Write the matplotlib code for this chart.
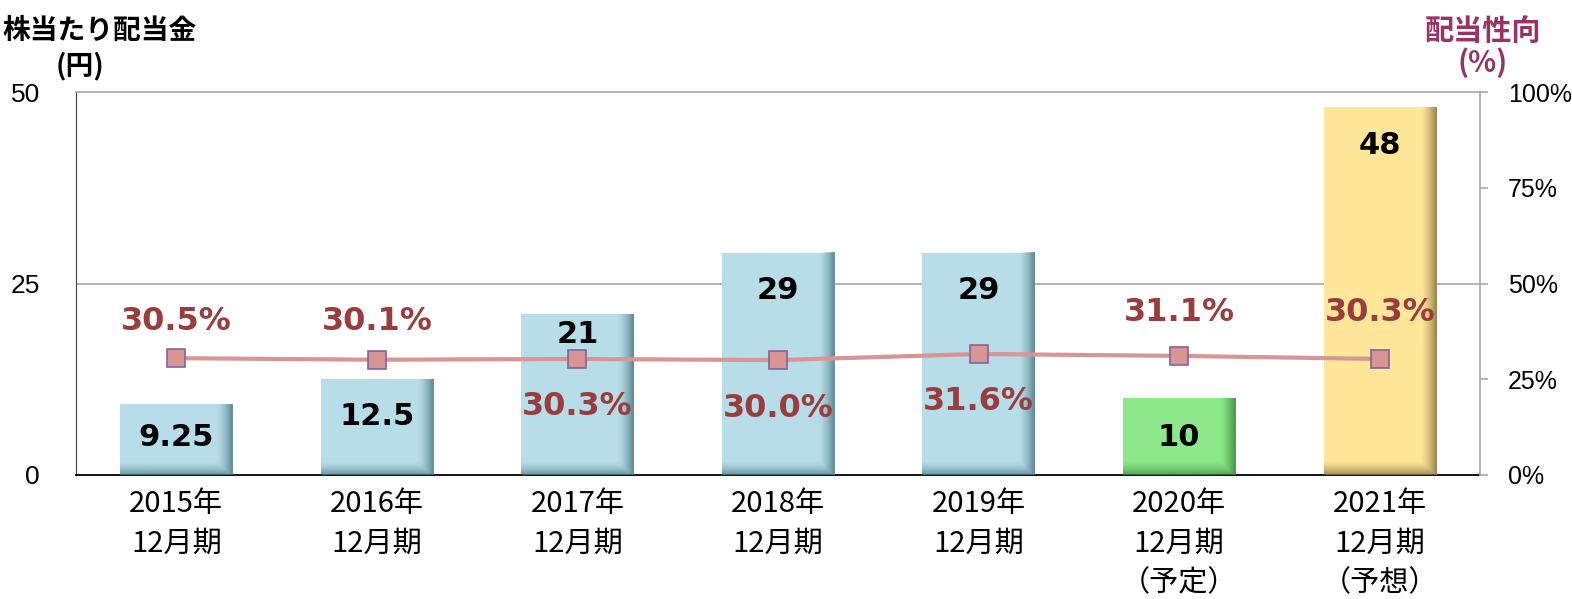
import numpy as np
import matplotlib
matplotlib.use("Agg")
import matplotlib.pyplot as plt
from matplotlib.ticker import PercentFormatter

plt.rcParams['font.family'] = ['Noto Sans CJK JP', 'DejaVu Sans']

# data
years = ["2015年\n12月期", "2016年\n12月期", "2017年\n12月期", "2018年\n12月期",
         "2019年\n12月期", "2020年\n12月期\n（予定）", "2021年\n12月期\n（予想）"]
dividend = [9.25, 12.5, 21, 29, 29, 10, 48]
dividend_txt = ["9.25", "12.5", "21", "29", "29", "10", "48"]
payout = [30.5, 30.1, 30.3, 30.0, 31.6, 31.1, 30.3]

# styles
bar_colors = ["#B7DDE8"] * 5 + ["#8CE88A", "#FFE699"]
shade_colors = ["#4F7F8A"] * 5 + ["#3E8A3C", "#8A7540"]
val_offset = [33, 37, 20, 38, 38, 39, 38]      # px below bar top
pct_offset = [37, 38, -48, -48, -48, 43, 46]   # px above marker (neg = below)

fig = plt.figure(figsize=(15.72, 5.99), dpi=100)
ax = fig.add_axes([76 / 1572, 1 - 475 / 599, 1404 / 1572, 383 / 599])
ax2 = ax.twinx()
ax.set_zorder(1)
ax2.set_zorder(2)
ax.patch.set_visible(False)

x = np.arange(len(years))
w = 0.56
ax.bar(x, dividend, width=w, color=bar_colors, zorder=2)

# shading on right and bottom edge of each bar
for xi, h, sc in zip(x, dividend, shade_colors):
    rgb = matplotlib.colors.to_rgb(sc)
    nx, ny = 60, 200
    gx = np.linspace(0, 1, nx)
    ax_alpha = np.clip((gx - 0.86) / 0.14, 0, 1) ** 1.5 * 0.85
    ybot = 14 / 7.66  # bottom shadow height in data units
    gy = np.linspace(0, h, ny)
    ay = np.clip(1 - gy / ybot, 0, 1) ** 1.5 * 0.75
    alpha = np.maximum(ax_alpha[None, :], ay[:, None])
    img = np.zeros((ny, nx, 4))
    img[..., :3] = rgb
    img[..., 3] = alpha
    ax.imshow(img, extent=(xi - w / 2, xi + w / 2, 0, h), origin="lower",
              aspect="auto", zorder=3, interpolation="bilinear")

for xi, h, t, off in zip(x, dividend, dividend_txt, val_offset):
    ax.annotate(t, (xi, h), xytext=(0, -off * 0.72), textcoords="offset points",
                ha="center", va="center", fontsize=22, fontweight="bold",
                family="DejaVu Sans", color="black", zorder=5)

ax.set_xlim(-0.5, len(years) - 0.5)
ax.set_ylim(0, 50)
ax.set_yticks([0, 25, 50])
ax.set_xticks(x)
ax.set_xticklabels(years, fontsize=21, linespacing=1.42)
ax.tick_params(axis="x", length=0, pad=10)
ax.tick_params(axis="y", length=0, pad=26, labelsize=19)
for lb in ax.get_yticklabels():
    lb.set_family("Liberation Sans")
ax.axhline(25, color="#A6A6A6", lw=1.2, zorder=1)
ax.spines["top"].set_color("#A6A6A6")
ax.spines["top"].set_linewidth(1.2)
ax.spines["right"].set_visible(False)
ax.spines["left"].set_color("#404040")
ax.spines["bottom"].set_color("black")
ax.spines["bottom"].set_linewidth(1.3)

# payout ratio line
ax2.plot(x, payout, color="#D99594", lw=3, marker="s", markersize=13,
         markerfacecolor="#D99594", markeredgecolor="#8064A2", markeredgewidth=1.2)
for xi, p, off in zip(x, payout, pct_offset):
    ax2.annotate(f"{p:.1f}%", (xi, p), xytext=(0, off * 0.72), textcoords="offset points",
                 ha="center", va="center", fontsize=23, fontweight="bold",
                 family="DejaVu Sans", color="#993D3D")
ax2.set_ylim(0, 100)
ax2.set_yticks([0, 25, 50, 75, 100])
ax2.yaxis.set_major_formatter(PercentFormatter(decimals=0))
ax2.tick_params(axis="y", length=6, color="#A6A6A6", width=1.2, labelsize=18, pad=14)
for lb in ax2.get_yticklabels():
    lb.set_family("Liberation Sans")
ax2.spines["right"].set_color("#A6A6A6")
ax2.spines["right"].set_linewidth(1.2)
for s in ["top", "left", "bottom"]:
    ax2.spines[s].set_visible(False)

# axis titles
fig.text(2 / 1572, 1 - 31 / 599, "株当たり配当金", fontsize=20, fontweight="bold",
         ha="left", va="center")
fig.text(80 / 1572, 1 - 66 / 599, "(円)", fontsize=20, fontweight="bold",
         ha="center", va="center")
fig.text(1483 / 1572, 1 - 31 / 599, "配当性向", fontsize=21, fontweight="bold",
         ha="center", va="center", color="#993366")
fig.text(1483 / 1572, 1 - 63 / 599, "(%)", fontsize=21, fontweight="bold",
         ha="center", va="center", color="#993366")

fig.savefig("out.png", dpi=100)
